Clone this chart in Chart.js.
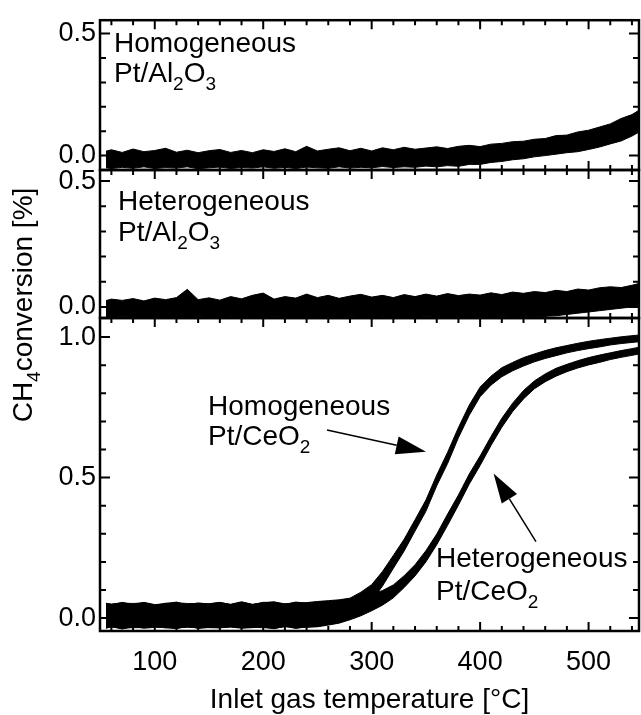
<!DOCTYPE html>
<html>
<head>
<meta charset="utf-8">
<script src="https://cdn.jsdelivr.net/npm/chart.js@4.4.0/dist/chart.umd.min.js"></script>
<style>
  html, body { margin: 0; padding: 0; background: #fff; }
  #wrap { position: relative; width: 641px; height: 715px; }
  #wrap canvas { position: absolute; left: 0; top: 0; }
</style>
</head>
<body>
<div id="wrap">
  <canvas id="topPanel" width="641" height="715"></canvas>
  <canvas id="midPanel" width="641" height="715"></canvas>
  <canvas id="botPanel" width="641" height="715"></canvas>
</div>
<script>
// inlet gas temperature samples [°C]
const tempC = [55, 60, 70, 80, 90, 100, 110, 120, 130, 140, 150, 160, 170, 180, 190, 200, 210, 220, 230, 240,
  250, 260, 270, 280, 290, 300, 310, 320, 330, 340, 350, 360, 370, 380, 390, 400, 410, 420, 430, 440,
  450, 460, 470, 480, 490, 500, 510, 520, 530, 540, 548];

// Homogeneous Pt/Al2O3 - lower / upper edge of the noisy trace
const homAlLow = [-0.05, -0.053, -0.048, -0.052, -0.046, -0.053, -0.049, -0.051, -0.046, -0.054,
  -0.05, -0.047, -0.053, -0.049, -0.051, -0.046, -0.052, -0.048, -0.053, -0.047,
  -0.05, -0.052, -0.046, -0.051, -0.048, -0.05, -0.045, -0.049, -0.046, -0.048,
  -0.043, -0.046, -0.041, -0.044, -0.036, -0.036, -0.028, -0.024, -0.017, -0.013,
  -0.005, 0.0, 0.006, 0.012, 0.016, 0.025, 0.035, 0.048, 0.06, 0.08, 0.1];
const homAlHigh = [0.018, 0.024, 0.013, 0.027, 0.016, 0.021, 0.03, 0.014, 0.022, 0.012,
  0.02, 0.025, 0.013, 0.021, 0.012, 0.024, 0.017, 0.028, 0.016, 0.038,
  0.019, 0.026, 0.032, 0.02, 0.03, 0.019, 0.032, 0.024, 0.034, 0.026,
  0.031, 0.036, 0.029, 0.038, 0.042, 0.037, 0.047, 0.05, 0.057, 0.059,
  0.067, 0.07, 0.082, 0.084, 0.097, 0.104, 0.117, 0.13, 0.152, 0.168, 0.19];

// Heterogeneous Pt/Al2O3
const hetAlLow = [-0.04, -0.042, -0.038, -0.041, -0.043, -0.039, -0.042, -0.04, -0.043, -0.038,
  -0.041, -0.043, -0.039, -0.042, -0.04, -0.043, -0.038, -0.041, -0.042, -0.039,
  -0.043, -0.04, -0.042, -0.038, -0.041, -0.043, -0.039, -0.042, -0.04, -0.043,
  -0.038, -0.041, -0.042, -0.039, -0.043, -0.04, -0.042, -0.038, -0.041, -0.039,
  -0.04, -0.037, -0.035, -0.03, -0.025, -0.02, -0.015, -0.01, -0.005, 0.0, 0.01];
const hetAlHigh = [0.025, 0.031, 0.026, 0.033, 0.024, 0.035, 0.029, 0.037, 0.07, 0.029,
  0.036, 0.027, 0.041, 0.032, 0.046, 0.055, 0.031, 0.041, 0.035, 0.051,
  0.037, 0.046, 0.034, 0.043, 0.05, 0.039, 0.046, 0.037, 0.049, 0.041,
  0.051, 0.043, 0.053, 0.045, 0.051, 0.047, 0.056, 0.049, 0.059, 0.054,
  0.061, 0.057, 0.066, 0.061, 0.071, 0.067, 0.076, 0.08, 0.077, 0.086, 0.095];

// Pt/CeO2 light-off curves (trace centre) and half width of the trace
const homCeMid = [0.008, 0.01, 0.007, 0.011, 0.009, 0.006, 0.01, 0.008, 0.012, 0.007,
  0.009, 0.011, 0.008, 0.01, 0.007, 0.012, 0.009, 0.011, 0.008, 0.012,
  0.015, 0.02, 0.025, 0.035, 0.06, 0.09, 0.14, 0.2, 0.26, 0.33,
  0.4, 0.49, 0.57, 0.66, 0.74, 0.805, 0.845, 0.875, 0.895, 0.912,
  0.926, 0.938, 0.948, 0.957, 0.965, 0.972, 0.978, 0.984, 0.989, 0.993, 0.996];
const hetCeMid = [0.009, 0.008, 0.01, 0.007, 0.011, 0.009, 0.008, 0.011, 0.007, 0.01,
  0.008, 0.01, 0.009, 0.012, 0.008, 0.01, 0.011, 0.009, 0.012, 0.01,
  0.013, 0.017, 0.022, 0.03, 0.04, 0.055, 0.072, 0.095, 0.13, 0.17,
  0.22, 0.28, 0.35, 0.42, 0.495, 0.56, 0.63, 0.695, 0.75, 0.795,
  0.83, 0.855, 0.875, 0.89, 0.903, 0.914, 0.923, 0.932, 0.94, 0.947, 0.953];
const ceSpread = [0.044, 0.04, 0.046, 0.041, 0.045, 0.039, 0.043, 0.046, 0.04, 0.044,
  0.042, 0.045, 0.04, 0.046, 0.041, 0.044, 0.047, 0.04, 0.045, 0.043,
  0.044, 0.042, 0.04, 0.036, 0.032, 0.029, 0.026, 0.023, 0.021, 0.02,
  0.02, 0.019, 0.02, 0.018, 0.018, 0.017, 0.016, 0.016, 0.015, 0.015,
  0.014, 0.014, 0.014, 0.013, 0.013, 0.013, 0.013, 0.012, 0.012, 0.012, 0.012];

const xTickLabels = [100, 200, 300, 400, 500];
const yTicksAl = [0, 0.5];
const yTicksCe = [0, 0.5, 1.0];

const FONT = '"Liberation Sans", Arial, Helvetica, sans-serif';
const FSIZE = 28;      // words
const NSIZE = 27;      // tick numbers
const SUBSIZE = 19;

function pts(ys) {
  return tempC.map((t, i) => ({ x: t, y: ys[i] }));
}

function band(lo, hi) {
  return [
    { data: pts(hi), borderColor: '#000', borderWidth: 1, pointRadius: 0, fill: false },
    { data: pts(lo), borderColor: '#000', borderWidth: 1, pointRadius: 0, backgroundColor: '#000', fill: '-1' }
  ];
}

// frame with inward ticks, like the original plot
const frame = {
  id: 'frame',
  afterDatasetsDraw(chart) {
    const { ctx, chartArea: a, scales: { x, y } } = chart;
    ctx.save();
    ctx.strokeStyle = '#000';
    ctx.lineWidth = 2;
    ctx.beginPath();
    for (let t = 60; t <= 540; t += 20) {
      const px = x.getPixelForValue(t);
      const len = t % 100 === 0 ? 9 : 5;
      ctx.moveTo(px, a.top); ctx.lineTo(px, a.top + len);
      ctx.moveTo(px, a.bottom); ctx.lineTo(px, a.bottom - len);
    }
    for (let k = Math.ceil(y.min * 10); k <= Math.floor(y.max * 10); k++) {
      const py = y.getPixelForValue(k / 10);
      const len = k % 5 === 0 ? 10 : 6;
      ctx.moveTo(a.left, py); ctx.lineTo(a.left + len, py);
      ctx.moveTo(a.right, py); ctx.lineTo(a.right - len, py);
    }
    ctx.stroke();
    ctx.lineWidth = 2.5;
    ctx.strokeRect(a.left, a.top, a.right - a.left, a.bottom - a.top);
    ctx.restore();
  }
};

function drawRuns(ctx, runs, x0, y0) {
  let x = x0;
  runs.forEach(r => {
    const sub = r.length > 1;
    ctx.font = (sub ? SUBSIZE : FSIZE) + 'px ' + FONT;
    ctx.fillText(r[0], x, y0 + (sub ? 8 : 0));
    x += ctx.measureText(r[0]).width;
  });
}

// text labels and arrows, placed in data coordinates
const notes = {
  id: 'notes',
  afterDraw(chart, args, opts) {
    const { ctx, scales: { x, y } } = chart;
    ctx.save();
    ctx.fillStyle = '#000';
    ctx.strokeStyle = '#000';
    ctx.textBaseline = 'alphabetic';
    ctx.textAlign = 'left';
    (opts.labels || []).forEach(l => {
      drawRuns(ctx, l.runs, x.getPixelForValue(l.x), y.getPixelForValue(l.y));
    });
    (opts.arrows || []).forEach(ar => {
      const x1 = x.getPixelForValue(ar.from[0]), y1 = y.getPixelForValue(ar.from[1]);
      const x2 = x.getPixelForValue(ar.to[0]), y2 = y.getPixelForValue(ar.to[1]);
      const ang = Math.atan2(y2 - y1, x2 - x1);
      const hl = 30, hw = 9;
      const bx = x2 - hl * Math.cos(ang), by = y2 - hl * Math.sin(ang);
      ctx.lineWidth = 1.5;
      ctx.beginPath(); ctx.moveTo(x1, y1); ctx.lineTo(bx, by); ctx.stroke();
      ctx.beginPath();
      ctx.moveTo(x2, y2);
      ctx.lineTo(bx + hw * Math.sin(ang), by - hw * Math.cos(ang));
      ctx.lineTo(bx - hw * Math.sin(ang), by + hw * Math.cos(ang));
      ctx.closePath(); ctx.fill();
    });
    if (opts.yTitle) {
      ctx.translate(opts.yTitle.px, opts.yTitle.py);
      ctx.rotate(-Math.PI / 2);
      let w = 0;
      opts.yTitle.runs.forEach(r => {
        ctx.font = (r.length > 1 ? SUBSIZE : FSIZE) + 'px ' + FONT;
        w += ctx.measureText(r[0]).width;
      });
      drawRuns(ctx, opts.yTitle.runs, -w / 2, 0);
    }
    ctx.restore();
  }
};

function makePanel(id, cfg) {
  const xScale = {
    type: 'linear', min: 49.5, max: 546.5,
    display: cfg.showX,
    afterBuildTicks: s => { s.ticks = xTickLabels.map(v => ({ value: v })); },
    grid: { display: false, drawTicks: false },
    border: { display: false },
    ticks: { color: '#000', padding: 15, font: { family: FONT, size: NSIZE } },
    title: {
      display: true, text: 'Inlet gas temperature [°C]', color: '#000',
      font: { family: FONT, size: FSIZE }, padding: { top: 0, bottom: -2 }
    }
  };
  if (cfg.showX) xScale.afterFit = s => { s.height = 84; };
  return new Chart(document.getElementById(id), {
    type: 'line',
    data: { datasets: cfg.datasets },
    options: {
      responsive: false,
      animation: false,
      layout: { padding: { left: 0, right: 2, top: cfg.top, bottom: cfg.bottom } },
      plugins: { legend: { display: false }, tooltip: { enabled: false }, notes: cfg.notes },
      scales: {
        x: xScale,
        y: {
          min: cfg.yMin, max: cfg.yMax,
          afterFit: s => { s.width = 100; },
          afterBuildTicks: s => { s.ticks = cfg.yTicks.map(v => ({ value: v })); },
          grid: { display: false, drawTicks: false },
          border: { display: false },
          ticks: { color: '#000', padding: 4, font: { family: FONT, size: NSIZE }, callback: v => v.toFixed(1) }
        }
      }
    },
    plugins: [frame, notes]
  });
}

makePanel('topPanel', {
  top: 14, bottom: 715 - 170, showX: false,
  yMin: -0.059, yMax: 0.555, yTicks: yTicksAl,
  datasets: band(homAlLow, homAlHigh),
  notes: { labels: [
    { x: 62.4, y: 0.425, runs: [['Homogeneous']] },
    { x: 62.4, y: 0.3, runs: [['Pt/Al'], ['2', 1], ['O'], ['3', 1]] }
  ] }
});

makePanel('midPanel', {
  top: 170, bottom: 715 - 318, showX: false,
  yMin: -0.044, yMax: 0.544, yTicks: yTicksAl,
  datasets: band(hetAlLow, hetAlHigh),
  notes: { labels: [
    { x: 66.1, y: 0.385, runs: [['Heterogeneous']] },
    { x: 66.1, y: 0.262, runs: [['Pt/Al'], ['2', 1], ['O'], ['3', 1]] }
  ] }
});

const homCeLow = homCeMid.map((v, i) => v - ceSpread[i]);
const homCeHigh = homCeMid.map((v, i) => v + ceSpread[i]);
const hetCeLow = hetCeMid.map((v, i) => v - ceSpread[i]);
const hetCeHigh = hetCeMid.map((v, i) => v + ceSpread[i]);

makePanel('botPanel', {
  top: 318, bottom: 0, showX: true,
  yMin: -0.046, yMax: 1.068, yTicks: yTicksCe,
  datasets: band(homCeLow, homCeHigh).concat(band(hetCeLow, hetCeHigh)),
  notes: {
    labels: [
      { x: 149.1, y: 0.722, runs: [['Homogeneous']] },
      { x: 149.1, y: 0.616, runs: [['Pt/CeO'], ['2', 1]] },
      { x: 359.3, y: 0.181, runs: [['Heterogeneous']] },
      { x: 359.3, y: 0.064, runs: [['Pt/CeO'], ['2', 1]] }
    ],
    arrows: [
      { from: [258.8, 0.669], to: [350.1, 0.592] },
      { from: [451.5, 0.272], to: [412.4, 0.515] }
    ],
    yTitle: { px: 32, py: 305, runs: [['CH'], ['4', 1], ['conversion [%]']] }
  }
});
</script>
</body>
</html>
